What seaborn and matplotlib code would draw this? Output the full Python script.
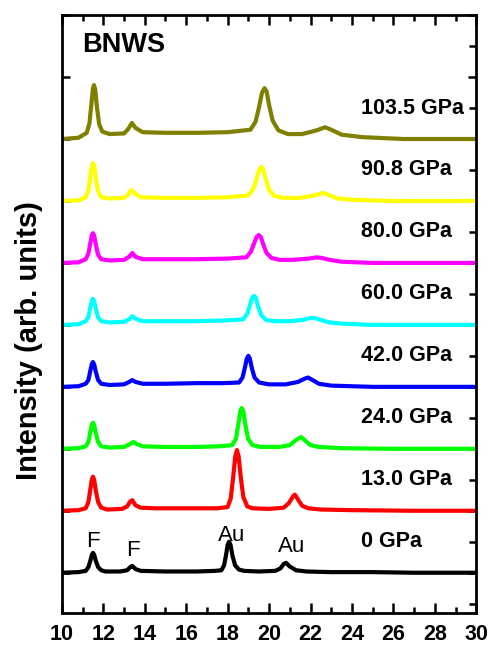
import matplotlib
matplotlib.use("Agg")
import matplotlib.pyplot as plt
from matplotlib.ticker import MultipleLocator
import seaborn as sns
import pandas as pd

# XRD patterns of BNWS at increasing pressure
# (2theta, intensity above the trace's own baseline)
pressures = ["0 GPa", "13.0 GPa", "24.0 GPa", "42.0 GPa",
             "60.0 GPa", "80.0 GPa", "90.8 GPa", "103.5 GPa"]
colors = ["#000000", "#ff0000", "#00ff00", "#0000ff",
          "#00ffff", "#ff00ff", "#ffff00", "#808000"]

pts_0 = [(10.0, 0.0), (10.8, 0.01),
         (11.15, 0.03), (11.28, 0.09), (11.38, 0.2), (11.45, 0.29), (11.5, 0.32), (11.56, 0.29),
         (11.64, 0.19), (11.75, 0.09), (11.9, 0.04),
         (12.1, 0.02), (12.8, 0.02), (13.15, 0.04), (13.3, 0.09), (13.4, 0.11), (13.55, 0.06),
         (13.8, 0.03), (15.0, 0.02), (16.5, 0.02), (17.4, 0.03),
         (17.7, 0.04), (17.83, 0.12), (17.93, 0.3), (18.0, 0.45), (18.07, 0.5), (18.14, 0.45),
         (18.23, 0.28), (18.36, 0.12), (18.55, 0.05),
         (18.8, 0.03), (19.5, 0.02), (20.3, 0.03), (20.55, 0.07), (20.7, 0.14), (20.82, 0.16),
         (21.0, 0.1), (21.3, 0.04), (21.8, 0.02), (23.0, 0.01), (25.0, 0.01), (27.0, 0.0),
         (30.0, 0.0)]
pts_13 = [(10.0, 0.0), (10.8, 0.01),
          (11.15, 0.04), (11.28, 0.14), (11.38, 0.36), (11.45, 0.51), (11.5, 0.55), (11.56, 0.5),
          (11.64, 0.32), (11.75, 0.14), (11.9, 0.05),
          (12.2, 0.02), (12.9, 0.03), (13.15, 0.07), (13.3, 0.15), (13.4, 0.17), (13.55, 0.09),
          (13.8, 0.05), (14.5, 0.04), (15.5, 0.04), (16.5, 0.04), (17.5, 0.04),
          (18.0, 0.06), (18.15, 0.2), (18.27, 0.55), (18.37, 0.88), (18.45, 0.98), (18.53, 0.88),
          (18.63, 0.55), (18.76, 0.22), (18.95, 0.07),
          (19.2, 0.04), (20.0, 0.03), (20.7, 0.05), (20.95, 0.12), (21.15, 0.23), (21.25, 0.26),
          (21.4, 0.18), (21.6, 0.08), (21.9, 0.04), (22.5, 0.02), (24.0, 0.01), (27.0, 0.0),
          (30.0, 0.0)]
pts_24 = [(10.0, 0.0), (10.8, 0.01),
          (11.15, 0.04), (11.28, 0.11), (11.38, 0.28), (11.45, 0.39), (11.5, 0.42), (11.56, 0.38),
          (11.64, 0.25), (11.75, 0.11), (11.9, 0.04),
          (12.3, 0.02), (13.0, 0.03), (13.25, 0.07), (13.45, 0.11), (13.6, 0.08), (13.9, 0.04),
          (15.0, 0.03), (16.5, 0.03), (17.6, 0.04),
          (18.22, 0.06), (18.4, 0.16), (18.52, 0.4), (18.61, 0.6), (18.68, 0.66), (18.76, 0.6),
          (18.86, 0.38), (18.99, 0.16), (19.2, 0.06),
          (19.6, 0.03), (20.5, 0.03), (21.0, 0.06), (21.3, 0.14), (21.55, 0.19), (21.75, 0.13),
          (22.0, 0.06), (22.4, 0.03), (23.5, 0.01), (26.0, 0.0), (30.0, 0.0)]
pts_42 = [(10.0, 0.0), (10.8, 0.01),
          (11.15, 0.05), (11.28, 0.11), (11.38, 0.27), (11.45, 0.37), (11.5, 0.4), (11.56, 0.36),
          (11.64, 0.24), (11.75, 0.11), (11.9, 0.05),
          (12.3, 0.03), (13.0, 0.04), (13.25, 0.08), (13.4, 0.11), (13.55, 0.08), (13.9, 0.05),
          (15.0, 0.05), (16.5, 0.06), (17.8, 0.06),
          (18.55, 0.07), (18.72, 0.15), (18.84, 0.32), (18.93, 0.46), (19.0, 0.5), (19.07, 0.46),
          (19.17, 0.3), (19.3, 0.15), (19.52, 0.07),
          (20.0, 0.04), (20.8, 0.04), (21.4, 0.08), (21.7, 0.13), (21.88, 0.15), (22.1, 0.11),
          (22.4, 0.05), (23.0, 0.02), (25.0, 0.0), (30.0, 0.0)]
pts_60 = [(10.0, 0.0), (10.8, 0.01),
          (11.15, 0.06), (11.28, 0.13), (11.38, 0.29), (11.45, 0.39), (11.5, 0.42), (11.56, 0.38),
          (11.64, 0.26), (11.75, 0.12), (11.9, 0.06),
          (12.3, 0.04), (13.0, 0.05), (13.25, 0.09), (13.4, 0.14), (13.55, 0.1), (13.9, 0.06),
          (15.0, 0.06), (16.5, 0.06), (17.8, 0.07),
          (18.75, 0.09), (18.95, 0.18), (19.08, 0.32), (19.19, 0.44), (19.28, 0.47), (19.36, 0.44),
          (19.47, 0.3), (19.62, 0.16), (19.85, 0.08),
          (20.3, 0.06), (21.0, 0.06), (21.6, 0.08), (22.0, 0.11), (22.2, 0.11), (22.5, 0.08),
          (22.9, 0.04), (23.5, 0.02), (25.0, 0.0), (30.0, 0.0)]
pts_80 = [(10.0, 0.0), (10.8, 0.01),
          (11.15, 0.06), (11.28, 0.15), (11.38, 0.33), (11.45, 0.45), (11.5, 0.48), (11.56, 0.44),
          (11.64, 0.29), (11.75, 0.13), (11.9, 0.06),
          (12.3, 0.04), (13.0, 0.05), (13.25, 0.1), (13.4, 0.16), (13.55, 0.1), (13.9, 0.06),
          (15.0, 0.06), (16.5, 0.06), (18.0, 0.07),
          (18.9, 0.09), (19.12, 0.18), (19.27, 0.31), (19.4, 0.42), (19.5, 0.45), (19.6, 0.42),
          (19.72, 0.3), (19.88, 0.16), (20.12, 0.08),
          (20.5, 0.05), (21.2, 0.05), (21.9, 0.07), (22.3, 0.09), (22.55, 0.08), (22.9, 0.05),
          (23.5, 0.02), (25.0, 0.0), (30.0, 0.0)]
pts_91 = [(10.0, 0.0), (10.8, 0.01),
          (11.15, 0.06), (11.28, 0.17), (11.38, 0.41), (11.45, 0.57), (11.5, 0.61), (11.56, 0.56),
          (11.64, 0.37), (11.75, 0.16), (11.9, 0.06),
          (12.3, 0.04), (13.0, 0.05), (13.2, 0.1), (13.35, 0.18), (13.5, 0.13), (13.8, 0.06),
          (15.0, 0.05), (16.5, 0.05), (18.0, 0.06),
          (19.0, 0.09), (19.25, 0.2), (19.4, 0.36), (19.53, 0.51), (19.63, 0.55), (19.72, 0.51),
          (19.84, 0.35), (20.0, 0.18), (20.25, 0.08),
          (20.7, 0.05), (21.5, 0.05), (22.2, 0.09), (22.6, 0.13), (22.85, 0.1), (23.3, 0.04),
          (24.0, 0.02), (26.0, 0.0), (30.0, 0.0)]
pts_103 = [(10.0, 0.0), (10.8, 0.02),
           (11.2, 0.1), (11.33, 0.25), (11.43, 0.58), (11.5, 0.82), (11.55, 0.87), (11.61, 0.8),
           (11.69, 0.52), (11.8, 0.24), (11.95, 0.12),
           (12.3, 0.08), (13.0, 0.09), (13.2, 0.16), (13.38, 0.26), (13.55, 0.18), (13.9, 0.11),
           (15.0, 0.1), (16.5, 0.1), (18.0, 0.11),
           (19.1, 0.15), (19.35, 0.28), (19.52, 0.52), (19.66, 0.75), (19.78, 0.82), (19.88, 0.77),
           (20.0, 0.55), (20.17, 0.3), (20.45, 0.14),
           (20.9, 0.08), (21.6, 0.08), (22.3, 0.14), (22.7, 0.19), (23.0, 0.15), (23.5, 0.07),
           (24.5, 0.03), (26.5, 0.0), (30.0, 0.0)]

traces = [pts_0, pts_13, pts_24, pts_42, pts_60, pts_80, pts_91, pts_103]

# peak assignments on the ambient pattern
peak_labels = ["F", "F", "Au", "Au"]
peak_pos = [11.5, 13.45, 18.2, 21.1]
peak_lab_y = [0.5, 0.36, 0.6, 0.42]

rows = []
for i, (name, pts) in enumerate(zip(pressures, traces)):
    for x, y in pts:
        rows.append({"tt": x, "I": y + i, "p": name})
df = pd.DataFrame(rows)

sns.set_style("ticks", rc={"axes.edgecolor": "black", "xtick.color": "black",
                           "ytick.color": "black", "text.color": "black",
                           "axes.labelcolor": "black"})
plt.rcParams["font.family"] = ["Liberation Sans", "DejaVu Sans"]

fig = plt.figure(figsize=(4.91, 6.45), dpi=100)
ax = fig.add_axes([0.126, 0.0496, 0.844, 0.927])

sns.lineplot(data=df, x="tt", y="I", hue="p", palette=colors, hue_order=pressures,
             sort=False, estimator=None, lw=3.0, legend=False, ax=ax,
             solid_joinstyle="round")

for i, name in enumerate(pressures):
    ax.text(24.45, i + 0.5, name, fontsize=15.5, fontweight="bold", va="center", ha="left")

for lab, x, y in zip(peak_labels, peak_pos, peak_lab_y):
    ax.text(x, y, lab, fontsize=16, va="center", ha="center")

ax.text(11.0, 8.52, "BNWS", fontsize=19.5, fontweight="bold", va="center", ha="left")

ax.set_xlim(10, 30)
ax.set_ylim(-0.65, 9.0)
ax.set_xticks(range(10, 31, 2))
ax.set_xticklabels([str(v) for v in range(10, 31, 2)], fontweight="bold", fontsize=15.5)
ax.xaxis.set_minor_locator(MultipleLocator(1))
ax.yaxis.set_major_locator(MultipleLocator(1))
ax.yaxis.set_minor_locator(MultipleLocator(0.5))
ax.set_yticklabels([])
ax.tick_params(axis="x", which="both", direction="in", top=True, width=1.8)
ax.tick_params(axis="x", which="major", length=7, pad=8)
ax.tick_params(axis="x", which="minor", length=4.5)
ax.tick_params(axis="y", which="major", direction="in", left=True, right=True,
               length=6, width=1.8)
ax.tick_params(axis="y", which="minor", direction="in", left=False, right=True,
               length=5, width=1.8)
for s in ax.spines.values():
    s.set_linewidth(2.0)

ax.set_xlabel("")
ax.set_ylabel("Intensity (arb. units)", fontsize=21, fontweight="bold")
ax.yaxis.set_label_coords(-0.045, 0.455)

fig.savefig("out.png", dpi=100)
